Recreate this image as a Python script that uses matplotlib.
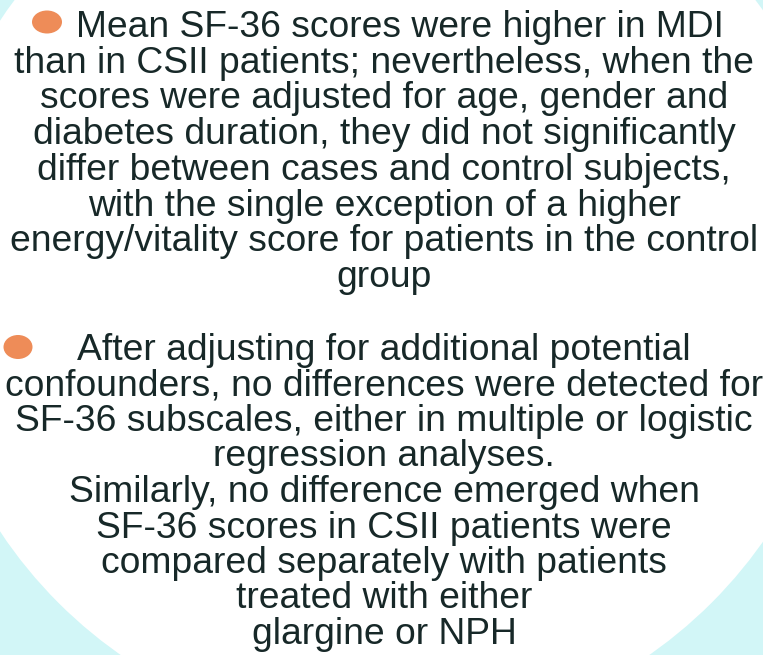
import matplotlib
matplotlib.use("Agg")
import matplotlib.pyplot as plt
from matplotlib.patches import Circle, Ellipse

# slide text, one entry per printed line
para1 = [
    "Mean SF-36 scores were higher in MDI",
    "than in CSII patients; nevertheless, when the",
    "scores were adjusted for age, gender and",
    "diabetes duration, they did not significantly",
    "differ between cases and control subjects,",
    "with the single exception of a higher",
    "energy/vitality score for patients in the control",
    "group",
]
para2 = [
    "After adjusting for additional potential",
    "confounders, no differences were detected for",
    "SF-36 subscales, either in multiple or logistic",
    "regression analyses.",
    "Similarly, no difference emerged when",
    "SF-36 scores in CSII patients were",
    "compared separately with patients",
    "treated with either",
    "glargine or NPH",
]

bg = "#d2f6f7"
ink = "#172828"
orange = "#ee8c58"

fig = plt.figure(figsize=(7.63, 6.55), dpi=100)
fig.patch.set_facecolor(bg)
ax = fig.add_axes([0, 0, 1, 1])
ax.set_xlim(0, 763)
ax.set_ylim(655, 0)
ax.axis("off")
ax.set_facecolor(bg)

ax.add_patch(Circle((385, 276), 462, facecolor="white", edgecolor="none"))

ax.add_patch(Ellipse((47, 22), 30, 23, facecolor=orange, edgecolor="none"))
ax.add_patch(Ellipse((18, 347), 29, 24, facecolor=orange, edgecolor="none"))

font = dict(family="Liberation Sans", fontsize=26.8, color=ink,
            ha="center", va="baseline")
for i, line in enumerate(para1):
    x = 400 if i == 0 else 384
    ax.text(x, 37 + i * 35.7, line, **font)
for i, line in enumerate(para2):
    ax.text(384, 360 + i * 35.5, line, **font)

fig.savefig("out.png", dpi=100, facecolor=bg)
